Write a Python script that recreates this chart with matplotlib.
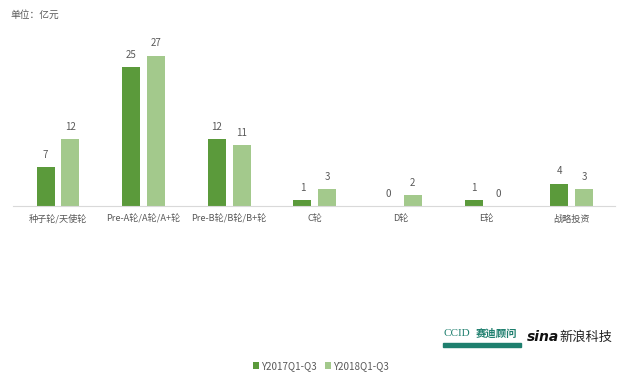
import matplotlib.pyplot as plt
import numpy as np

plt.rcParams['font.family'] = ['Noto Sans CJK SC', 'DejaVu Sans']

categories = ['种子轮/天使轮', 'Pre-A轮/A轮/A+轮', 'Pre-B轮/B轮/B+轮', 'C轮', 'D轮', 'E轮', '战略投资']
series_names = ['Y2017Q1-Q3', 'Y2018Q1-Q3']
y2017 = [7, 25, 12, 1, 0, 1, 4]
y2018 = [12, 27, 11, 3, 2, 0, 3]

dark = '#5B9A3B'
light = '#A3C98C'
gray = '#595959'

fig = plt.figure(figsize=(6.3, 3.85), dpi=100)
ax = fig.add_axes([13 / 630, 1 - 206 / 385, 602 / 630, 167 / 385])

x = np.arange(len(categories))
w = 0.21
off = 0.145
b1 = ax.bar(x - off, y2017, w, color=dark, label=series_names[0])
b2 = ax.bar(x + off, y2018, w, color=light, label=series_names[1])

for bars, vals in ((b1, y2017), (b2, y2018)):
    for rect, v in zip(bars, vals):
        ax.text(rect.get_x() + rect.get_width() / 2, v + 1.3, str(v),
                ha='center', va='bottom', fontsize=7, color=gray)

ax.set_xlim(-0.526, 6.508)
ax.set_ylim(0, 30)
ax.set_yticks([])
ax.set_xticks(x)
ax.set_xticklabels(categories, fontsize=6.6, color=gray)
ax.tick_params(axis='x', length=0, pad=6)
for s in ['top', 'right', 'left']:
    ax.spines[s].set_visible(False)
ax.spines['bottom'].set_color('#D9D9D9')

fig.text(10 / 630, 1 - 15 / 385, '单位：亿元', fontsize=7, color=gray, va='center')

fig.legend(handles=[b1, b2], loc='center', bbox_to_anchor=(321 / 630, 1 - 366 / 385),
           ncol=2, frameon=False, fontsize=7, handlelength=0.6, handleheight=0.6,
           handletextpad=0.2, columnspacing=0.9, labelcolor=gray)

# logos as text
fig.text(443 / 630, 1 - 334 / 385, 'CCID', fontsize=8, color='#1E7F6E', va='center',
         family='Liberation Serif')
fig.text(476 / 630, 1 - 334 / 385, '赛迪顾问', fontsize=7.5, color='#1E7F6E', va='center',
         weight='bold')
fig.patches.append(plt.Rectangle((443 / 630, 1 - 347 / 385), 78 / 630, 4 / 385,
                                 transform=fig.transFigure, color='#1E7F6E'))
fig.text(527 / 630, 1 - 337 / 385, 'sina', fontsize=10, color='#111111', va='center',
         style='italic', weight='bold', family='DejaVu Sans')
fig.text(559 / 630, 1 - 337 / 385, '新浪科技', fontsize=9.5, color='#222222', va='center')

plt.savefig('out.png', dpi=100)
